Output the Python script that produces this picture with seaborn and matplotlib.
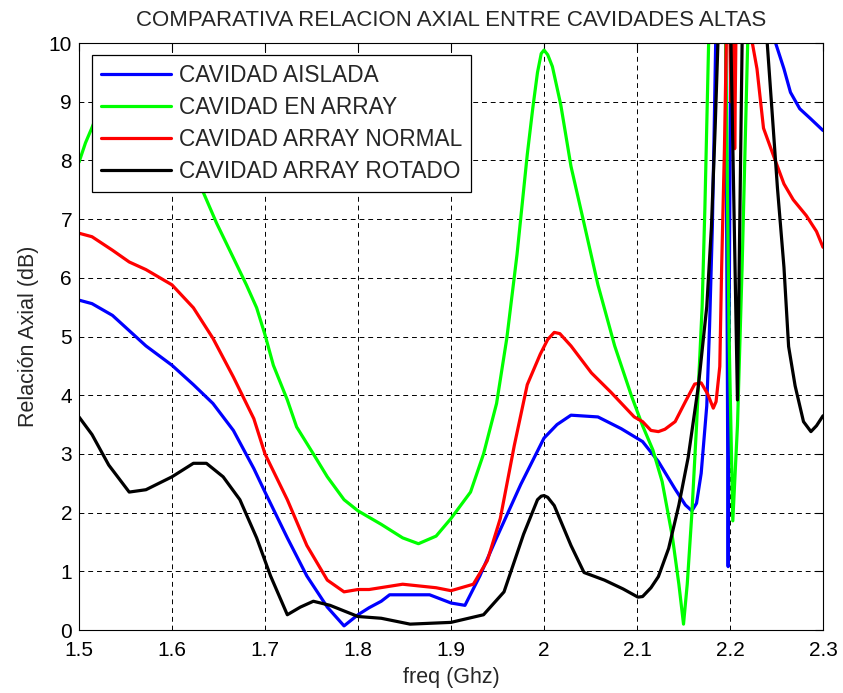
import matplotlib
matplotlib.use("Agg")
import matplotlib.pyplot as plt
import seaborn as sns
import pandas as pd

# --- data (freq in GHz, axial ratio in dB) ---
freq_aislada = [1.5, 1.514, 1.536, 1.554, 1.572, 1.6, 1.623, 1.644, 1.666, 1.688, 1.7, 1.724,
                1.745, 1.767, 1.785, 1.8, 1.812, 1.825, 1.834, 1.877, 1.9, 1.915, 1.931, 1.949,
                1.975, 2.0, 2.014, 2.029, 2.058, 2.083, 2.106, 2.123, 2.141, 2.152, 2.159, 2.164,
                2.169, 2.175, 2.178, 2.181, 2.183, 2.185, 2.19, 2.195, 2.197, 2.198, 2.199, 2.201,
                2.205, 2.225, 2.245, 2.249, 2.258, 2.265, 2.275, 2.286, 2.3]
ra_aislada = [5.62, 5.56, 5.36, 5.1, 4.84, 4.51, 4.18, 3.86, 3.4, 2.75, 2.35, 1.57,
              0.92, 0.39, 0.07, 0.26, 0.38, 0.49, 0.6, 0.6, 0.46, 0.42, 0.92, 1.57,
              2.48, 3.27, 3.5, 3.66, 3.63, 3.43, 3.21, 2.87, 2.4, 2.13, 2.03, 2.16,
              2.67, 3.82, 5.17, 6.86, 8.55, 10.4, 12, 11, 5, 1.08, 5, 11,
              13, 14, 11, 10, 9.56, 9.16, 8.88, 8.72, 8.51]

freq_array = [1.5, 1.507, 1.514, 1.525, 1.54, 1.56, 1.58, 1.6, 1.62, 1.633, 1.648, 1.666, 1.68,
              1.691, 1.7, 1.709, 1.724, 1.734, 1.752, 1.767, 1.785, 1.8, 1.825, 1.848, 1.865,
              1.884, 1.9, 1.921, 1.935, 1.949, 1.96, 1.971, 1.982, 1.988, 1.993, 1.997, 2.0,
              2.004, 2.009, 2.018, 2.029, 2.043, 2.058, 2.076, 2.094, 2.106, 2.117, 2.127, 2.138,
              2.145, 2.15, 2.154, 2.159, 2.164, 2.17, 2.173, 2.177, 2.185, 2.195, 2.199, 2.203,
              2.208, 2.213, 2.219, 2.23, 2.26, 2.3]
ra_array = [7.97, 8.3, 8.56, 9.0, 9.3, 9.4, 9.3, 8.9, 8.1, 7.48, 6.93, 6.34, 5.88,
            5.49, 5.03, 4.51, 3.92, 3.46, 3.0, 2.61, 2.22, 2.03, 1.8, 1.57, 1.47,
            1.6, 1.9, 2.35, 3.0, 3.86, 4.97, 6.4, 8.1, 8.9, 9.5, 9.82, 9.88,
            9.8, 9.6, 8.95, 7.9, 6.93, 5.88, 4.84, 3.99, 3.48, 3.07, 2.53, 1.59,
            0.78, 0.1, 0.78, 1.99, 3.48, 5.5, 7.2, 10, 12, 10.5, 5, 1.86,
            3.48, 6.18, 10, 13, 15, 15]

freq_normal = [1.5, 1.514, 1.536, 1.554, 1.572, 1.6, 1.623, 1.644, 1.666, 1.688, 1.7, 1.724,
               1.745, 1.767, 1.785, 1.8, 1.812, 1.848, 1.884, 1.9, 1.924, 1.939, 1.953, 1.968,
               1.982, 1.996, 2.004, 2.011, 2.017, 2.029, 2.051, 2.072, 2.097, 2.106, 2.115, 2.123,
               2.13, 2.141, 2.152, 2.162, 2.169, 2.176, 2.182, 2.185, 2.189, 2.191, 2.194, 2.196,
               2.199, 2.201, 2.202, 2.203, 2.204, 2.205, 2.207, 2.212, 2.22, 2.224, 2.229, 2.236,
               2.247, 2.258, 2.268, 2.282, 2.293, 2.3]
ra_normal = [6.76, 6.7, 6.47, 6.27, 6.14, 5.88, 5.49, 4.97, 4.31, 3.6, 3.0, 2.22,
             1.44, 0.85, 0.65, 0.69, 0.69, 0.78, 0.72, 0.67, 0.78, 1.18, 1.9, 3.14,
             4.18, 4.7, 4.95, 5.07, 5.05, 4.84, 4.38, 4.05, 3.63, 3.55, 3.4, 3.38,
             3.42, 3.55, 3.89, 4.19, 4.21, 4.02, 3.78, 3.89, 4.49, 6.18, 8.2, 10,
             11, 9, 11, 8.6, 11, 8.2, 11, 12, 11, 10, 9.56, 8.55,
             8.07, 7.6, 7.33, 7.06, 6.79, 6.52]

freq_rotado = [1.5, 1.514, 1.532, 1.554, 1.572, 1.6, 1.623, 1.637, 1.655, 1.673, 1.691, 1.706,
               1.724, 1.738, 1.752, 1.77, 1.8, 1.825, 1.856, 1.9, 1.935, 1.957, 1.978, 1.993,
               1.997, 2.0, 2.004, 2.011, 2.029, 2.043, 2.065, 2.085, 2.101, 2.106, 2.115, 2.123,
               2.134, 2.145, 2.155, 2.166, 2.175, 2.18, 2.184, 2.187, 2.192, 2.198, 2.201, 2.208,
               2.213, 2.22, 2.235, 2.24, 2.245, 2.251, 2.258, 2.263, 2.27, 2.279, 2.287, 2.293,
               2.3]
ra_rotado = [3.63, 3.33, 2.81, 2.35, 2.39, 2.61, 2.84, 2.84, 2.61, 2.22, 1.57, 0.92,
             0.26, 0.39, 0.49, 0.42, 0.23, 0.2, 0.1, 0.13, 0.26, 0.65, 1.63, 2.22,
             2.28, 2.29, 2.26, 2.12, 1.44, 0.98, 0.85, 0.7, 0.56, 0.57, 0.72, 0.91,
             1.39, 2.13, 2.94, 4.16, 5.51, 6.86, 8.55, 10, 12, 11, 10, 3.92,
             10, 13, 12, 10, 8.88, 7.53, 6.18, 4.83, 4.16, 3.55, 3.38, 3.48,
             3.65]

series = ['CAVIDAD AISLADA', 'CAVIDAD EN ARRAY', 'CAVIDAD ARRAY NORMAL', 'CAVIDAD ARRAY ROTADO']
colors = ['#0000ff', '#00ff00', '#ff0000', '#000000']
x_ticks = [1.5, 1.6, 1.7, 1.8, 1.9, 2.0, 2.1, 2.2, 2.3]
x_ticklabels = ['1.5', '1.6', '1.7', '1.8', '1.9', '2', '2.1', '2.2', '2.3']
y_ticks = list(range(0, 11))

frames = []
for name, f, r in zip(series,
                      [freq_aislada, freq_array, freq_normal, freq_rotado],
                      [ra_aislada, ra_array, ra_normal, ra_rotado]):
    frames.append(pd.DataFrame({'freq': f, 'ra': r, 'serie': name}))
df = pd.concat(frames, ignore_index=True)

sns.set_style('white')
plt.rcParams['font.family'] = ['Liberation Sans', 'DejaVu Sans']

fig = plt.figure(figsize=(8.43, 6.93), dpi=100)
ax = fig.add_axes([0.0937, 0.0909, 0.8826, 0.847])

sns.lineplot(data=df, x='freq', y='ra', hue='serie', hue_order=series,
             palette=colors, estimator=None, sort=False, linewidth=2.3, ax=ax)

ax.set_xlim(1.5, 2.3)
ax.set_ylim(0, 10)
ax.set_xticks(x_ticks)
ax.set_xticklabels(x_ticklabels, fontsize=15)
ax.set_yticks(y_ticks)
ax.set_yticklabels([str(v) for v in y_ticks], fontsize=15)
ax.tick_params(direction='in', length=6, width=0.8, top=True, right=True, colors='black')
ax.tick_params(axis='x', pad=8)
ax.tick_params(axis='y', pad=5)
ax.grid(True, color='black', linestyle=(0, (5, 4)), linewidth=0.7)
for s in ax.spines.values():
    s.set_color('black')
    s.set_linewidth(0.8)

ax.set_xlabel('freq (Ghz)', fontsize=15.5, labelpad=5)
ax.set_ylabel('Relación Axial (dB)', fontsize=15.5, labelpad=7)
ax.set_title('COMPARATIVA RELACION AXIAL ENTRE CAVIDADES ALTAS', fontsize=16, pad=12)

handles, labels = ax.get_legend_handles_labels()
leg = ax.legend(handles, labels, loc='upper left', bbox_to_anchor=(0.0175, 0.98),
                borderaxespad=0, fontsize=16.3, frameon=True, fancybox=False,
                edgecolor='black', framealpha=1, handlelength=3.1, handletextpad=0.35,
                labelspacing=0.4, borderpad=0.4)
leg.get_frame().set_linewidth(0.9)
for line in leg.get_lines():
    line.set_linewidth(2.3)

fig.savefig('out.png', dpi=100)
